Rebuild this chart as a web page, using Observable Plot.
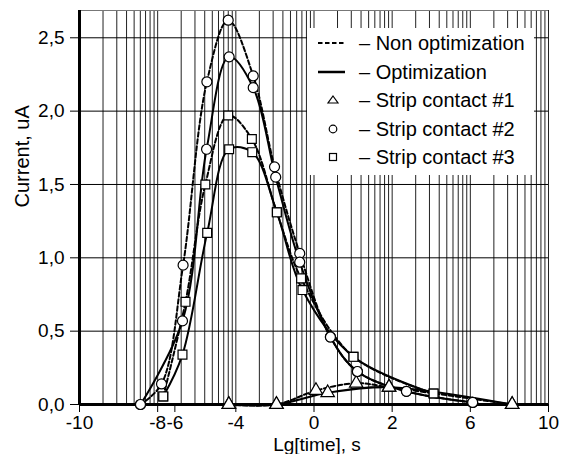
<!DOCTYPE html>
<html><head><meta charset="utf-8">
<script src="https://cdn.jsdelivr.net/npm/d3@7"></script>
<script src="https://cdn.jsdelivr.net/npm/@observablehq/plot@0.6"></script>
<style>
body{margin:0;background:#fff;font-family:"Liberation Sans",Arial,sans-serif;}
#wrap{position:relative;width:566px;height:454px;}
#legend{position:absolute;left:307px;top:28px;width:227px;height:147px;background:#fff;}
.row{position:absolute;left:0;width:227px;height:28px;}
.row svg{position:absolute;left:0;top:0;}
.row span{position:absolute;left:52px;top:3px;font-size:20px;line-height:22px;color:#000;white-space:nowrap;}
</style></head><body><div id="wrap"></div>
<script>
// x-axis ticks (Lg[time]) and their decade positions on the log grid
const xTickValues = [-10, -8, -6, -4, 0, 2, 6, 10];
const xTickLabels = ["-10", "-8", "-6", "-4", "0", "2", "6", "10"];
const xTickDecades = [0, 1, 1.22, 2, 3, 4, 5, 6];
const yTicks = [0, 0.5, 1.0, 1.5, 2.0, 2.5];
const yMax = 2.686;

// Strip contact #1 (triangles)
const c1NonX = [-4.23, -1.92, 0.05, 1.08, 1.92, 8.14];
const c1NonY = [0, 0, 0.095, 0.145, 0.118, 0];
const c1OptX = [-4.23, -1.92, 0.35, 1.92, 8.14];
const c1OptY = [0, 0, 0.08, 0.118, 0];
// Strip contact #2 (circles)
const c2NonX = [-8.44, -7.55, -5.73, -4.95, -4.25, -3.11, -2.02, -0.73, 0.42, 1.11, 2.73, 6.12];
const c2NonY = [0, 0.14, 0.95, 2.20, 2.62, 2.24, 1.62, 1.03, 0.46, 0.225, 0.09, 0.014];
const c2OptX = [-8.44, -5.75, -4.96, -4.22, -3.11, -1.96, -0.73, 0.42, 1.11, 2.73, 6.12];
const c2OptY = [0, 0.57, 1.74, 2.37, 2.16, 1.55, 0.97, 0.46, 0.225, 0.09, 0.014];
// Strip contact #3 (squares)
const c3NonX = [-7.35, -5.65, -5.0, -4.25, -3.18, -1.90, -0.66, 1.01, 4.12];
const c3NonY = [0.055, 0.70, 1.50, 1.97, 1.81, 1.31, 0.86, 0.325, 0.075];
const c3OptX = [-7.35, -5.75, -4.94, -4.22, -3.16, -1.90, -0.59, 1.01, 4.12];
const c3OptY = [0.055, 0.34, 1.17, 1.74, 1.72, 1.31, 0.78, 0.325, 0.075];

const legendItems = ["– Non optimization", "– Optimization", "– Strip contact #1", "– Strip contact #2", "– Strip contact #3"];

function rows(xs, ys, contact, mode) {
  return xs.map((x, i) => ({x, y: ys[i], contact, mode, series: contact + mode}));
}
const data = [
  ...rows(c1NonX, c1NonY, "#1", "non"), ...rows(c1OptX, c1OptY, "#1", "opt"),
  ...rows(c2NonX, c2NonY, "#2", "non"), ...rows(c2OptX, c2OptY, "#2", "opt"),
  ...rows(c3NonX, c3NonY, "#3", "non"), ...rows(c3OptX, c3OptY, "#3", "opt")
];

const W = 566, H = 454, ml = 79, mr = 18, mt = 10, mb = 50;
const decadeToLg = d3.scaleLinear().domain(xTickDecades).range(xTickValues);
const gridX = d3.range(6).flatMap(d => d3.range(1, 10).map(k => d + Math.log10(k))).concat([6]).map(decadeToLg);

const chart = Plot.plot({
  width: W, height: H,
  marginLeft: ml, marginRight: mr, marginTop: mt, marginBottom: mb,
  style: {fontFamily: "Liberation Sans, Arial, sans-serif", fontSize: "19px", color: "#000", background: "#fff"},
  x: {type: "linear", domain: xTickValues, range: xTickDecades.map(d => ml + d / 6 * (W - ml - mr)),
      ticks: xTickValues, tickFormat: d => xTickLabels[xTickValues.indexOf(d)], tickSize: 8, tickPadding: 3, label: null},
  y: {domain: [0, yMax], ticks: yTicks, tickFormat: d => d.toFixed(1).replace(".", ","), tickSize: 9, tickPadding: 6, label: null},
  symbol: {domain: ["#1", "#2", "#3"], range: ["triangle", "circle", "square"]},
  marks: [
    Plot.ruleX(gridX, {stroke: "#222", strokeWidth: 1}),
    Plot.ruleY(yTicks, {stroke: "#000", strokeWidth: 1}),
    Plot.ruleY([yMax], {stroke: "#777", strokeWidth: 1}),
    Plot.line(data.filter(d => d.mode === "non"), {x: "x", y: "y", z: "series", curve: "catmull-rom", stroke: "#000", strokeWidth: 2, strokeDasharray: "4.5,2.5"}),
    Plot.line(data.filter(d => d.mode === "opt"), {x: "x", y: "y", z: "series", curve: "catmull-rom", stroke: "#000", strokeWidth: 2}),
    Plot.ruleX([xTickValues[0]], {stroke: "#000", strokeWidth: 3}),
    Plot.ruleY([0], {stroke: "#000", strokeWidth: 3}),
    Plot.dot(data, {x: "x", y: "y", symbol: "contact", r: 5, fill: "#fff", stroke: "#000", strokeWidth: 1.2}),
    Plot.text(["Lg[time], s"], {frameAnchor: "bottom", dx: 3, dy: 40, fontSize: 19, lineAnchor: "middle"}),
    Plot.text(["Current, uA"], {frameAnchor: "left", dx: -57, rotate: -90, fontSize: 20, lineAnchor: "middle"})
  ]
});

const wrap = document.getElementById("wrap");
wrap.appendChild(chart);

const legend = document.createElement("div");
legend.id = "legend";
const symbols = [
  '<line x1="11" y1="14" x2="38" y2="14" stroke="#000" stroke-width="2" stroke-dasharray="4.5,2.5"/>',
  '<line x1="11" y1="14" x2="38" y2="14" stroke="#000" stroke-width="2.5"/>',
  '<path d="M26,10 L31,17 L21,17 Z" fill="#fff" stroke="#000" stroke-width="1.2"/>',
  '<circle cx="26" cy="14" r="3.8" fill="#fff" stroke="#000" stroke-width="1.2"/>',
  '<rect x="22.5" y="10.5" width="7" height="7" fill="#fff" stroke="#000" stroke-width="1.2"/>'
];
legendItems.forEach((t, i) => {
  const r = document.createElement("div");
  r.className = "row";
  r.style.top = (1 + i * 28.5) + "px";
  r.innerHTML = '<svg width="50" height="28">' + symbols[i] + '</svg><span>' + t + '</span>';
  legend.appendChild(r);
});
wrap.appendChild(legend);
</script>
</body></html>
